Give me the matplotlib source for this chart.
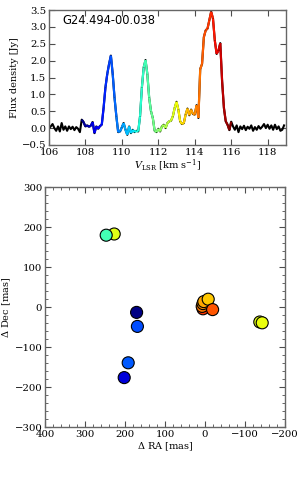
import numpy as np
import matplotlib
matplotlib.use('Agg')
import matplotlib.pyplot as plt
from matplotlib.collections import LineCollection
from matplotlib.ticker import MultipleLocator

plt.rcParams['font.family'] = 'DejaVu Serif'
plt.rcParams['mathtext.fontset'] = 'dejavuserif'
plt.rcParams['font.size'] = 7

# spectrum: channels from 106.0 km/s, 0.1 km/s apart
v_start = 106.0
v_step = 0.1
flux = [
    -0.02, 0.05, 0.12, 0.00, -0.08, 0.05, -0.10, 0.15, -0.05, 0.05,
    -0.08, 0.05, -0.03, 0.04, -0.06, 0.03, -0.02, -0.12, 0.25, 0.18,
    0.05, 0.08, 0.04, 0.07, 0.18, -0.15, 0.05, -0.02, 0.06, 0.10,
    0.60, 1.20, 1.60, 1.90, 2.15, 1.60, 0.90, 0.35, -0.12, -0.10,
    0.02, 0.15, -0.05, -0.20, 0.05, -0.15, -0.05, -0.12, -0.08, -0.10,
    0.35, 1.20, 1.80, 2.02, 1.60, 0.90, 0.50, 0.30, -0.08, -0.12,
    -0.02, -0.10, 0.05, 0.10, 0.00, 0.15, 0.20, 0.22, 0.35, 0.60,
    0.78, 0.55, 0.20, 0.12, 0.15, 0.40, 0.58, 0.38, 0.55, 0.42,
    0.40, 0.68, 0.30, 1.75, 1.90, 2.70, 2.90, 2.95, 3.20, 3.45,
    3.25, 2.60, 2.20, 2.30, 2.52, 1.40, 0.60, 0.20, 0.10, -0.06,
    0.19, 0.05, -0.05, 0.08, -0.12, 0.05, -0.03, 0.07, -0.06, 0.04,
    -0.02, 0.08, -0.08, 0.03, -0.05, 0.06, -0.02, 0.04, 0.12, 0.00,
    0.10, -0.02, 0.08, -0.05, 0.10, -0.03, 0.05, -0.08, -0.05, 0.08,
]
v_min, v_max = 107.75, 116.0   # velocity range of the maser emission (coloured)

# maser spots
spot_ra = [227, 247, 171, 169, 192, 202, -137, -143, 5, 7, 5, 3, -8, -19]
spot_dec = [183, 180, -13, -48, -139, -176, -37, -39, -4, 2, 9, 14, 20, -6]
spot_vel = [112.9, 111.3, 107.8, 109.4, 109.5, 108.4, 112.9, 113.0,
            114.8, 114.2, 114.0, 113.8, 113.5, 114.5]

vel = v_start + v_step * np.arange(len(flux))
flux = np.array(flux)
norm = plt.Normalize(v_min, v_max)
cmap = plt.get_cmap('jet')

fig = plt.figure(figsize=(3.0, 4.8), dpi=100)

ax1 = fig.add_axes([0.163, 0.698, 0.79, 0.281])
ax1.plot(vel, flux, color='black', lw=1.5)
pts = np.column_stack([vel, flux]).reshape(-1, 1, 2)
segs = np.concatenate([pts[:-1], pts[1:]], axis=1)
mid = 0.5 * (vel[:-1] + vel[1:])
inside = (mid > v_min) & (mid < v_max)
lc = LineCollection(segs[inside], cmap=cmap, norm=norm, lw=1.6)
lc.set_array(mid[inside])
ax1.add_collection(lc)
ax1.set_xlim(106, 119)
ax1.set_ylim(-0.5, 3.5)
ax1.xaxis.set_major_locator(MultipleLocator(2))
ax1.yaxis.set_major_locator(MultipleLocator(0.5))
ax1.set_xlabel(r'$V_{\rm LSR}$ [km s$^{-1}$]', labelpad=1)
ax1.set_ylabel('Flux density [Jy]', labelpad=2)
ax1.text(0.055, 0.92, 'G24.494-00.038', transform=ax1.transAxes,
         family='DejaVu Sans', fontsize=8.3, va='center')

ax2 = fig.add_axes([0.15, 0.11, 0.8, 0.5])
ax2.scatter(spot_ra, spot_dec, c=spot_vel, cmap=cmap, norm=norm, s=75,
            edgecolors='black', linewidths=0.8, zorder=3)
ax2.set_xlim(400, -200)
ax2.set_ylim(-300, 300)
ax2.xaxis.set_major_locator(MultipleLocator(100))
ax2.yaxis.set_major_locator(MultipleLocator(100))
ax2.xaxis.set_minor_locator(MultipleLocator(20))
ax2.yaxis.set_minor_locator(MultipleLocator(20))
ax2.set_xlabel(r'$\Delta$ RA [mas]', labelpad=1)
ax2.set_ylabel(r'$\Delta$ Dec [mas]', labelpad=1)

for ax in (ax1, ax2):
    ax.tick_params(which='both', direction='in', top=True, right=True,
                   labelsize=7.3, pad=2, color='0.3')
    ax.tick_params(which='major', length=4)
    ax.tick_params(which='minor', length=2)
    for sp in ax.spines.values():
        sp.set_color('0.4')
        sp.set_linewidth(1.0)

fig.savefig('out.png', dpi=100)
